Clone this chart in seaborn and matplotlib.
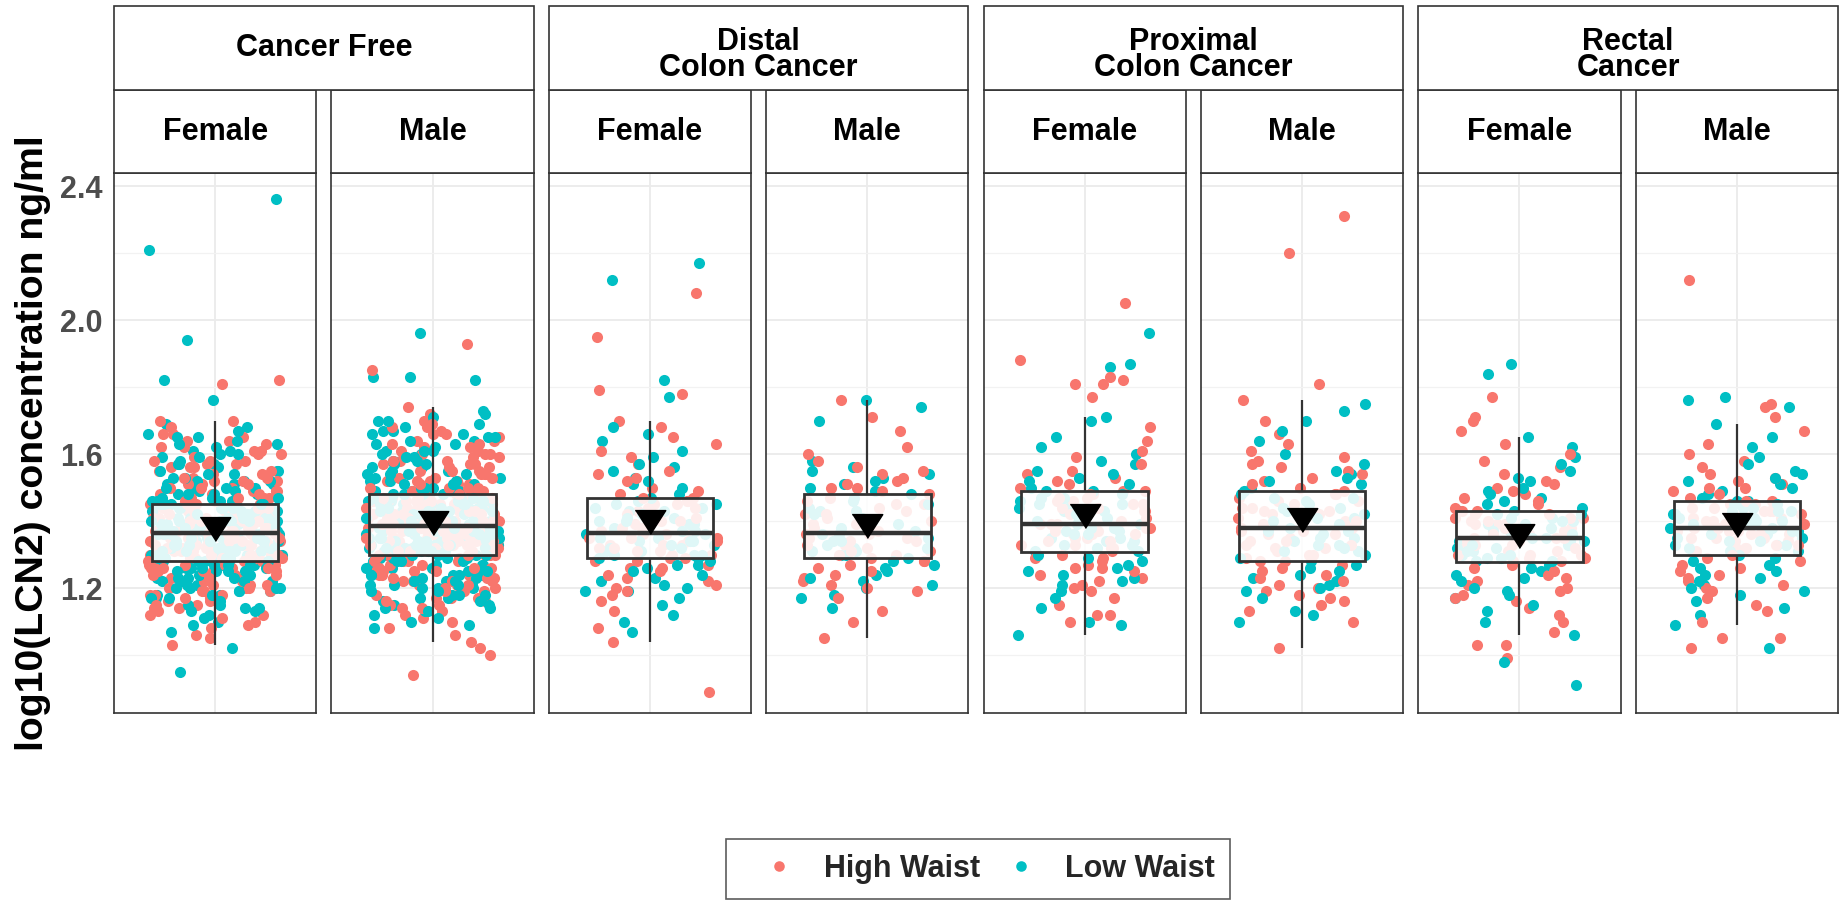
import numpy as np
import pandas as pd
import matplotlib
matplotlib.use("Agg")
import matplotlib.pyplot as plt
from matplotlib.patches import Rectangle
from matplotlib.lines import Line2D
import seaborn as sns

sns.set_theme(style="white")
plt.rcParams["font.family"] = ["Liberation Sans", "DejaVu Sans"]

# ---------------------------------------------------------------- data
cancer_types = ["Cancer Free", "Distal\nColon Cancer", "Proximal\nColon Cancer", "Rectal\nCancer"]
sexes = ["Female", "Male"]
waist_groups = ["High Waist", "Low Waist"]
palette = {"High Waist": "#F8766D", "Low Waist": "#00BFC4"}
y_ticks = [1.2, 1.6, 2.0, 2.4]
y_label = "log10(LCN2) concentration ng/ml"

# log10(LCN2) per participant, by cancer site, sex and waist group
cf_female_high = [
    1.03, 1.05, 1.06, 1.08, 1.10, 1.11, 1.12, 1.13, 1.14, 1.15, 1.16, 1.16, 1.17, 1.18, 1.18, 1.19,
    1.19, 1.20, 1.20, 1.21, 1.21, 1.22, 1.22, 1.23, 1.23, 1.23, 1.24, 1.24, 1.25, 1.25, 1.25, 1.26,
    1.26, 1.26, 1.27, 1.27, 1.27, 1.09, 1.14, 1.17, 1.19, 1.20, 1.21, 1.22, 1.23, 1.24, 1.25, 1.26,
    1.27, 1.15, 1.18, 1.21, 1.24, 1.26, 1.12, 1.23,
    1.28, 1.28, 1.28, 1.29, 1.29, 1.29, 1.30, 1.30, 1.30, 1.30, 1.31, 1.31, 1.31, 1.32, 1.32, 1.32,
    1.32, 1.33, 1.33, 1.33, 1.33, 1.34, 1.34, 1.34, 1.34, 1.35, 1.35, 1.35, 1.35, 1.36, 1.36, 1.36,
    1.36, 1.29, 1.31, 1.33, 1.35, 1.28, 1.28, 1.29, 1.30, 1.31, 1.32, 1.33, 1.34, 1.35, 1.36, 1.28,
    1.30, 1.32, 1.34, 1.36, 1.29, 1.31, 1.33, 1.35, 1.30,
    1.37, 1.37, 1.37, 1.37, 1.38, 1.38, 1.38, 1.38, 1.39, 1.39, 1.39, 1.39, 1.40, 1.40, 1.40, 1.40,
    1.41, 1.41, 1.41, 1.41, 1.42, 1.42, 1.42, 1.42, 1.43, 1.43, 1.43, 1.43, 1.44, 1.44, 1.44, 1.44,
    1.45, 1.45, 1.45, 1.45, 1.38, 1.41, 1.37, 1.38, 1.39, 1.40, 1.41, 1.42, 1.43, 1.44, 1.45, 1.37,
    1.39, 1.41, 1.43, 1.45, 1.38, 1.40, 1.42, 1.44, 1.39,
    1.46, 1.46, 1.47, 1.47, 1.48, 1.48, 1.49, 1.49, 1.50, 1.50, 1.51, 1.51, 1.52, 1.52, 1.53, 1.53,
    1.54, 1.55, 1.55, 1.56, 1.57, 1.58, 1.58, 1.59, 1.60, 1.61, 1.62, 1.63, 1.64, 1.65, 1.66, 1.68,
    1.70, 1.70, 1.81, 1.82, 1.56, 1.46, 1.47, 1.48, 1.49, 1.50, 1.52, 1.54, 1.56, 1.58, 1.60, 1.62,
    1.64, 1.47, 1.49, 1.51, 1.53, 1.57, 1.61, 1.66,
]
cf_female_low = [
    0.95, 1.02, 1.07, 1.09, 1.11, 1.12, 1.13, 1.14, 1.15, 1.15, 1.16, 1.17, 1.17, 1.18, 1.19, 1.19,
    1.20, 1.20, 1.21, 1.21, 1.22, 1.22, 1.22, 1.23, 1.23, 1.24, 1.24, 1.24, 1.25, 1.25, 1.26, 1.26,
    1.26, 1.27, 1.27, 1.27, 1.18, 1.10, 1.13, 1.16, 1.18, 1.20, 1.21, 1.22, 1.23, 1.24, 1.25, 1.26,
    1.27, 1.14, 1.17, 1.20, 1.23, 1.25, 1.19, 1.27,
    1.28, 1.28, 1.29, 1.29, 1.29, 1.30, 1.30, 1.30, 1.31, 1.31, 1.31, 1.31, 1.32, 1.32, 1.32, 1.33,
    1.33, 1.33, 1.33, 1.34, 1.34, 1.34, 1.34, 1.35, 1.35, 1.35, 1.36, 1.36, 1.36, 1.36, 1.28, 1.30,
    1.32, 1.34, 1.35, 1.29, 1.33, 1.36, 1.28, 1.29, 1.30, 1.31, 1.32, 1.33, 1.34, 1.35, 1.36, 1.29,
    1.31, 1.33, 1.35, 1.28, 1.30, 1.32, 1.34, 1.36, 1.31,
    1.37, 1.37, 1.37, 1.38, 1.38, 1.38, 1.38, 1.39, 1.39, 1.39, 1.40, 1.40, 1.40, 1.40, 1.41, 1.41,
    1.41, 1.42, 1.42, 1.42, 1.42, 1.43, 1.43, 1.43, 1.44, 1.44, 1.44, 1.44, 1.45, 1.45, 1.45, 1.37,
    1.39, 1.41, 1.43, 1.45, 1.40, 1.42, 1.37, 1.38, 1.39, 1.40, 1.41, 1.42, 1.43, 1.44, 1.45, 1.38,
    1.40, 1.42, 1.44, 1.37, 1.39, 1.41, 1.43, 1.45, 1.40,
    1.46, 1.46, 1.47, 1.47, 1.48, 1.48, 1.49, 1.49, 1.50, 1.50, 1.51, 1.52, 1.52, 1.53, 1.54, 1.54,
    1.55, 1.56, 1.57, 1.58, 1.59, 1.60, 1.61, 1.62, 1.63, 1.64, 1.65, 1.66, 1.68, 1.69, 1.76, 1.82,
    1.94, 2.21, 2.36, 1.51, 1.57, 1.46, 1.47, 1.48, 1.50, 1.51, 1.53, 1.55, 1.57, 1.59, 1.61, 1.63,
    1.65, 1.46, 1.48, 1.50, 1.52, 1.55, 1.60, 1.67,
]
cf_male_high = [
    0.94, 1.00, 1.02, 1.04, 1.06, 1.08, 1.10, 1.12, 1.13, 1.14, 1.15, 1.16, 1.17, 1.17, 1.18, 1.19,
    1.19, 1.20, 1.21, 1.21, 1.22, 1.22, 1.23, 1.23, 1.24, 1.24, 1.25, 1.25, 1.26, 1.26, 1.27, 1.27,
    1.28, 1.28, 1.29, 1.29, 1.16, 1.11, 1.15, 1.17, 1.19, 1.20, 1.21, 1.22, 1.23, 1.24, 1.25, 1.26,
    1.27, 1.28, 1.29, 1.18, 1.22, 1.25, 1.28, 1.14,
    1.30, 1.30, 1.30, 1.31, 1.31, 1.31, 1.32, 1.32, 1.32, 1.33, 1.33, 1.33, 1.34, 1.34, 1.34, 1.35,
    1.35, 1.35, 1.36, 1.36, 1.36, 1.37, 1.37, 1.37, 1.38, 1.38, 1.38, 1.30, 1.32, 1.34, 1.36, 1.38,
    1.31, 1.33, 1.35, 1.37, 1.34, 1.36, 1.30, 1.31, 1.32, 1.33, 1.34, 1.35, 1.36, 1.37, 1.38, 1.30,
    1.32, 1.34, 1.36, 1.38, 1.31, 1.33, 1.35, 1.37, 1.33,
    1.39, 1.39, 1.39, 1.40, 1.40, 1.40, 1.41, 1.41, 1.41, 1.42, 1.42, 1.42, 1.43, 1.43, 1.43, 1.44,
    1.44, 1.44, 1.45, 1.45, 1.45, 1.46, 1.46, 1.46, 1.47, 1.47, 1.47, 1.48, 1.48, 1.40, 1.42, 1.44,
    1.46, 1.41, 1.43, 1.45, 1.39, 1.47, 1.39, 1.40, 1.41, 1.42, 1.43, 1.44, 1.45, 1.46, 1.47, 1.48,
    1.39, 1.41, 1.43, 1.45, 1.47, 1.40, 1.42, 1.44, 1.46,
    1.49, 1.49, 1.50, 1.50, 1.51, 1.51, 1.52, 1.52, 1.53, 1.53, 1.54, 1.55, 1.55, 1.56, 1.57, 1.58,
    1.58, 1.59, 1.60, 1.61, 1.62, 1.63, 1.64, 1.65, 1.66, 1.67, 1.68, 1.69, 1.70, 1.72, 1.74, 1.85,
    1.93, 1.54, 1.57, 1.60, 1.63, 1.49, 1.50, 1.51, 1.52, 1.53, 1.54, 1.56, 1.58, 1.60, 1.62, 1.64,
    1.66, 1.50, 1.52, 1.55, 1.57, 1.59, 1.61, 1.68,
]
cf_male_low = [
    1.08, 1.09, 1.11, 1.13, 1.14, 1.15, 1.15, 1.16, 1.17, 1.18, 1.18, 1.19, 1.20, 1.20, 1.21, 1.21,
    1.22, 1.22, 1.23, 1.23, 1.24, 1.24, 1.25, 1.25, 1.26, 1.26, 1.27, 1.27, 1.28, 1.28, 1.28, 1.29,
    1.29, 1.29, 1.12, 1.19, 1.24, 1.10, 1.14, 1.16, 1.18, 1.20, 1.21, 1.22, 1.23, 1.24, 1.25, 1.26,
    1.27, 1.28, 1.29, 1.17, 1.21, 1.24, 1.27, 1.13,
    1.30, 1.30, 1.31, 1.31, 1.31, 1.32, 1.32, 1.32, 1.33, 1.33, 1.33, 1.34, 1.34, 1.34, 1.35, 1.35,
    1.35, 1.36, 1.36, 1.36, 1.37, 1.37, 1.37, 1.38, 1.38, 1.38, 1.30, 1.32, 1.34, 1.36, 1.38, 1.31,
    1.33, 1.35, 1.37, 1.33, 1.35, 1.37, 1.30, 1.31, 1.32, 1.33, 1.34, 1.35, 1.36, 1.37, 1.38, 1.31,
    1.33, 1.35, 1.37, 1.30, 1.32, 1.34, 1.36, 1.38, 1.34,
    1.39, 1.39, 1.40, 1.40, 1.40, 1.41, 1.41, 1.41, 1.42, 1.42, 1.42, 1.43, 1.43, 1.43, 1.44, 1.44,
    1.44, 1.45, 1.45, 1.45, 1.46, 1.46, 1.46, 1.47, 1.47, 1.47, 1.48, 1.48, 1.39, 1.41, 1.43, 1.45,
    1.47, 1.40, 1.42, 1.44, 1.46, 1.48, 1.39, 1.40, 1.41, 1.42, 1.43, 1.44, 1.45, 1.46, 1.47, 1.48,
    1.40, 1.42, 1.44, 1.46, 1.48, 1.39, 1.41, 1.43, 1.45,
    1.49, 1.49, 1.50, 1.50, 1.51, 1.52, 1.52, 1.53, 1.54, 1.54, 1.55, 1.56, 1.57, 1.58, 1.59, 1.60,
    1.61, 1.62, 1.63, 1.64, 1.65, 1.66, 1.67, 1.68, 1.69, 1.70, 1.71, 1.72, 1.73, 1.82, 1.83, 1.83,
    1.96, 1.51, 1.56, 1.61, 1.66, 1.49, 1.50, 1.51, 1.53, 1.54, 1.55, 1.57, 1.59, 1.61, 1.63, 1.65,
    1.67, 1.49, 1.52, 1.54, 1.58, 1.60, 1.64, 1.70,
]
distal_female_high = [
    0.89, 1.04, 1.08, 1.13, 1.16, 1.18, 1.20, 1.21, 1.22, 1.23, 1.24, 1.25, 1.26, 1.26, 1.27, 1.28,
    1.28, 1.19,
    1.29, 1.29, 1.30, 1.31, 1.31, 1.32, 1.33, 1.33, 1.34, 1.34, 1.35, 1.35, 1.36, 1.36, 1.30, 1.32,
    1.35, 1.33,
    1.37, 1.38, 1.39, 1.40, 1.41, 1.42, 1.43, 1.44, 1.44, 1.45, 1.46, 1.47, 1.47, 1.38, 1.40, 1.42,
    1.45, 1.46,
    1.48, 1.49, 1.50, 1.52, 1.53, 1.55, 1.57, 1.59, 1.61, 1.63, 1.65, 1.68, 1.70, 1.78, 1.79, 1.95,
    2.08, 1.54,
]
distal_female_low = [
    1.07, 1.10, 1.12, 1.15, 1.17, 1.19, 1.19, 1.21, 1.22, 1.23, 1.24, 1.25, 1.26, 1.27, 1.27, 1.28,
    1.20,
    1.29, 1.30, 1.30, 1.31, 1.32, 1.32, 1.33, 1.34, 1.34, 1.35, 1.36, 1.36, 1.29, 1.31, 1.33, 1.35,
    1.30, 1.34,
    1.37, 1.38, 1.39, 1.39, 1.40, 1.41, 1.42, 1.43, 1.44, 1.45, 1.46, 1.47, 1.37, 1.41, 1.43, 1.45,
    1.40, 1.44,
    1.48, 1.50, 1.51, 1.53, 1.55, 1.57, 1.59, 1.61, 1.64, 1.66, 1.68, 1.77, 1.82, 2.12, 2.17, 1.52,
    1.56,
]
distal_male_high = [
    1.05, 1.10, 1.13, 1.17, 1.19, 1.20, 1.22, 1.23, 1.24, 1.25, 1.26, 1.27, 1.28, 1.28, 1.21,
    1.29, 1.30, 1.31, 1.31, 1.32, 1.33, 1.34, 1.34, 1.35, 1.36, 1.36, 1.30, 1.32, 1.35, 1.33,
    1.37, 1.38, 1.39, 1.40, 1.41, 1.42, 1.43, 1.44, 1.45, 1.46, 1.47, 1.48, 1.39, 1.42, 1.45,
    1.49, 1.50, 1.51, 1.52, 1.53, 1.55, 1.56, 1.58, 1.60, 1.62, 1.67, 1.71, 1.76, 1.54, 1.50,
]
distal_male_low = [
    1.14, 1.17, 1.18, 1.20, 1.22, 1.23, 1.24, 1.25, 1.26, 1.27, 1.28, 1.21,
    1.29, 1.30, 1.31, 1.32, 1.33, 1.34, 1.35, 1.36, 1.30, 1.32, 1.34, 1.36, 1.31,
    1.37, 1.38, 1.40, 1.41, 1.42, 1.43, 1.44, 1.45, 1.46, 1.47, 1.48, 1.39, 1.43,
    1.49, 1.50, 1.51, 1.52, 1.53, 1.54, 1.56, 1.58, 1.70, 1.74, 1.76, 1.55,
]
proximal_female_high = [
    1.10, 1.12, 1.12, 1.15, 1.17, 1.19, 1.20, 1.22, 1.23, 1.24, 1.25, 1.26, 1.27, 1.28, 1.29, 1.29,
    1.30, 1.21, 1.26,
    1.31, 1.32, 1.33, 1.33, 1.34, 1.35, 1.36, 1.36, 1.37, 1.38, 1.38, 1.39, 1.39, 1.32, 1.35, 1.37,
    1.34, 1.36, 1.39,
    1.40, 1.41, 1.42, 1.43, 1.43, 1.44, 1.45, 1.46, 1.46, 1.47, 1.48, 1.49, 1.49, 1.41, 1.44, 1.47,
    1.42, 1.45, 1.48,
    1.50, 1.51, 1.52, 1.54, 1.55, 1.57, 1.59, 1.61, 1.64, 1.68, 1.77, 1.81, 1.81, 1.82, 1.83, 1.88,
    2.05, 1.53,
]
proximal_female_low = [
    1.06, 1.09, 1.10, 1.14, 1.17, 1.19, 1.21, 1.22, 1.23, 1.24, 1.25, 1.27, 1.28, 1.29, 1.30, 1.26,
    1.31, 1.32, 1.33, 1.34, 1.35, 1.36, 1.37, 1.38, 1.39, 1.31, 1.33, 1.35, 1.37, 1.39, 1.34, 1.36,
    1.38,
    1.40, 1.41, 1.42, 1.43, 1.44, 1.45, 1.46, 1.47, 1.48, 1.49, 1.41, 1.43, 1.45, 1.47, 1.49, 1.44,
    1.50, 1.51, 1.53, 1.54, 1.55, 1.57, 1.60, 1.62, 1.65, 1.70, 1.71, 1.86, 1.87, 1.96, 1.52, 1.58,
]
proximal_male_high = [
    1.02, 1.10, 1.13, 1.15, 1.17, 1.18, 1.19, 1.20, 1.21, 1.22, 1.23, 1.24, 1.25, 1.26, 1.27, 1.28,
    1.28, 1.16,
    1.29, 1.30, 1.31, 1.32, 1.33, 1.34, 1.35, 1.36, 1.37, 1.38, 1.38, 1.30, 1.32, 1.34, 1.36, 1.33,
    1.37,
    1.39, 1.40, 1.41, 1.42, 1.43, 1.44, 1.45, 1.46, 1.47, 1.48, 1.49, 1.40, 1.42, 1.44, 1.46, 1.48,
    1.43,
    1.50, 1.51, 1.52, 1.53, 1.54, 1.56, 1.58, 1.59, 1.61, 1.63, 1.66, 1.70, 1.76, 1.81, 2.20, 2.31,
    1.55, 1.57,
]
proximal_male_low = [
    1.10, 1.12, 1.13, 1.17, 1.19, 1.20, 1.22, 1.23, 1.24, 1.25, 1.26, 1.27, 1.28, 1.21,
    1.29, 1.30, 1.31, 1.32, 1.33, 1.34, 1.35, 1.36, 1.37, 1.38, 1.31, 1.33, 1.35, 1.37,
    1.39, 1.40, 1.41, 1.42, 1.43, 1.44, 1.45, 1.46, 1.47, 1.48, 1.49, 1.41, 1.44, 1.47,
    1.50, 1.51, 1.52, 1.53, 1.55, 1.57, 1.60, 1.64, 1.67, 1.70, 1.73, 1.75, 1.54,
]
rectal_female_high = [
    0.99, 1.03, 1.03, 1.07, 1.10, 1.12, 1.14, 1.16, 1.17, 1.18, 1.19, 1.20, 1.21, 1.22, 1.23, 1.24,
    1.25, 1.26, 1.27,
    1.28, 1.28, 1.29, 1.30, 1.30, 1.31, 1.32, 1.32, 1.33, 1.33, 1.34, 1.35, 1.35, 1.29, 1.31, 1.34,
    1.30, 1.33, 1.35,
    1.36, 1.37, 1.37, 1.38, 1.39, 1.39, 1.40, 1.41, 1.41, 1.42, 1.43, 1.43, 1.38, 1.40, 1.42, 1.36,
    1.39, 1.41, 1.37,
    1.44, 1.45, 1.46, 1.47, 1.48, 1.49, 1.50, 1.51, 1.52, 1.54, 1.56, 1.58, 1.60, 1.63, 1.67, 1.70,
    1.71, 1.77,
]
rectal_female_low = [
    0.91, 0.98, 1.06, 1.10, 1.13, 1.15, 1.17, 1.18, 1.19, 1.20, 1.22, 1.23, 1.24, 1.25, 1.26, 1.27,
    1.28, 1.29, 1.29, 1.30, 1.31, 1.32, 1.32, 1.33, 1.34, 1.34, 1.35, 1.35, 1.30, 1.31, 1.33, 1.28,
    1.34,
    1.36, 1.37, 1.38, 1.39, 1.39, 1.40, 1.41, 1.42, 1.43, 1.43, 1.37, 1.38, 1.40, 1.42, 1.36, 1.41,
    1.44, 1.45, 1.46, 1.47, 1.48, 1.49, 1.50, 1.52, 1.53, 1.55, 1.57, 1.59, 1.62, 1.65, 1.84, 1.87,
]
rectal_male_high = [
    1.02, 1.05, 1.05, 1.10, 1.13, 1.15, 1.17, 1.19, 1.20, 1.22, 1.23, 1.24, 1.25, 1.26, 1.27, 1.28,
    1.29, 1.30, 1.21,
    1.31, 1.32, 1.32, 1.33, 1.33, 1.34, 1.35, 1.35, 1.36, 1.36, 1.37, 1.37, 1.38, 1.38, 1.32, 1.34,
    1.36, 1.35, 1.37,
    1.39, 1.39, 1.40, 1.41, 1.41, 1.42, 1.43, 1.43, 1.44, 1.45, 1.45, 1.46, 1.40, 1.42, 1.44, 1.46,
    1.41, 1.43, 1.39,
    1.47, 1.48, 1.49, 1.50, 1.51, 1.52, 1.53, 1.54, 1.56, 1.58, 1.60, 1.63, 1.67, 1.71, 1.74, 1.75,
    2.12, 1.50,
]
rectal_male_low = [
    1.02, 1.09, 1.12, 1.14, 1.16, 1.18, 1.19, 1.21, 1.22, 1.23, 1.24, 1.25, 1.26, 1.27, 1.28, 1.29,
    1.30, 1.20,
    1.31, 1.32, 1.33, 1.33, 1.34, 1.35, 1.36, 1.37, 1.38, 1.38, 1.31, 1.34, 1.36, 1.32, 1.35, 1.37,
    1.33,
    1.39, 1.40, 1.40, 1.41, 1.42, 1.43, 1.44, 1.45, 1.46, 1.39, 1.41, 1.43, 1.45, 1.42, 1.44, 1.46,
    1.40, 1.43,
    1.47, 1.48, 1.49, 1.50, 1.52, 1.53, 1.55, 1.57, 1.59, 1.62, 1.65, 1.69, 1.74, 1.76, 1.77, 1.51,
    1.54,
]

series = {
    (cancer_types[0], "Female"): (cf_female_high, cf_female_low),
    (cancer_types[0], "Male"): (cf_male_high, cf_male_low),
    (cancer_types[1], "Female"): (distal_female_high, distal_female_low),
    (cancer_types[1], "Male"): (distal_male_high, distal_male_low),
    (cancer_types[2], "Female"): (proximal_female_high, proximal_female_low),
    (cancer_types[2], "Male"): (proximal_male_high, proximal_male_low),
    (cancer_types[3], "Female"): (rectal_female_high, rectal_female_low),
    (cancer_types[3], "Male"): (rectal_male_high, rectal_male_low),
}

rows = []
for (ct, sx), (high, low) in series.items():
    for waist, values in zip(waist_groups, (high, low)):
        for k, v in enumerate(values):
            rows.append({"cancer": ct, "sex": sx, "waist": waist, "order": k, "lcn2": v})
df = pd.DataFrame(rows)

# ---------------------------------------------------------------- layout (pixels)
W, H = 1840, 906
fig = plt.figure(figsize=(W / 100, H / 100), dpi=100)


def fig_box(x0, y_top, w, h):
    return [x0 / W, 1 - (y_top + h) / H, w / W, h / H]


left0, right_end, gap = 114, 1838, 15
pw = (right_end - left0 - 7 * gap) / 8
panel_top, panel_bot = 173, 713
strip2_top, strip1_top = 90, 6
ylim = (0.827, 2.439)
edge = "#333333"
strip_font = dict(fontsize=22, fontweight="bold", color="black")

np.random.seed(11)
n_chunks = 6

for i, ct in enumerate(cancer_types):
    for j, sx in enumerate(sexes):
        k = 2 * i + j
        x0 = left0 + k * (pw + gap)
        ax = fig.add_axes(fig_box(x0, panel_top, pw, panel_bot - panel_top))
        sub = df[(df.cancer == ct) & (df.sex == sx)]

        # interleave the two waist groups so neither colour sits fully on top
        for r in range(n_chunks):
            for waist in waist_groups:
                part = sub[(sub.waist == waist) & (sub.order % n_chunks == r)]
                sns.stripplot(data=part, x="sex", y="lcn2", order=[sx],
                              color=palette[waist], jitter=0.4, size=8.0,
                              linewidth=0, ax=ax, zorder=2)

        sns.boxplot(
            data=sub, x="sex", y="lcn2", order=[sx], width=0.75,
            showfliers=False, showcaps=False, showmeans=True,
            color="white", linecolor=edge, linewidth=2.0, ax=ax,
            boxprops=dict(facecolor=(1, 1, 1, 0.88), edgecolor=edge,
                          linewidth=2.0, zorder=3),
            whiskerprops=dict(color=edge, linewidth=1.6, zorder=3),
            medianprops=dict(color=edge, linewidth=3.2, zorder=4),
            meanprops=dict(marker=[(-1, 0.78), (1, 0.78), (0, -0.78)],
                           markerfacecolor="black", markeredgecolor="black",
                           markersize=22, zorder=5),
        )

        ax.set_xlim(-0.6, 0.6)
        ax.set_ylim(*ylim)
        ax.set_xlabel("")
        ax.set_ylabel("")
        ax.set_xticks([0])
        ax.set_xticklabels([])
        ax.set_yticks(y_ticks)
        ax.set_yticks([1.0, 1.4, 1.8, 2.2], minor=True)
        ax.set_axisbelow(True)
        ax.grid(True, which="major", color="#EBEBEB", linewidth=1.3)
        ax.grid(True, which="minor", axis="y", color="#F2F2F2", linewidth=0.9)
        ax.tick_params(axis="x", length=0)
        ax.tick_params(axis="y", which="minor", length=0)
        if k == 0:
            ax.tick_params(axis="y", which="major", length=6, width=1.2, color=edge,
                           pad=2, labelsize=22, labelcolor="#4D4D4D")
            for lab in ax.get_yticklabels():
                lab.set_fontweight("bold")
        else:
            ax.tick_params(axis="y", which="major", length=0, labelleft=False)
        for sp in ax.spines.values():
            sp.set_visible(True)
            sp.set_color(edge)
            sp.set_linewidth(1.2)

        # inner strip (sex)
        fig.patches.append(Rectangle((x0 / W, 1 - panel_top / H), pw / W,
                                     (panel_top - strip2_top) / H,
                                     transform=fig.transFigure, facecolor="white",
                                     edgecolor=edge, linewidth=1.2))
        fig.text((x0 + pw / 2) / W, 1 - (strip2_top + panel_top) / 2 / H, sx,
                 ha="center", va="center", **strip_font)

    # outer strip (cancer site) spanning both sexes
    gx0 = left0 + 2 * i * (pw + gap)
    gw = 2 * pw + gap
    fig.patches.append(Rectangle((gx0 / W, 1 - strip2_top / H), gw / W,
                                 (strip2_top - strip1_top) / H,
                                 transform=fig.transFigure, facecolor="white",
                                 edgecolor=edge, linewidth=1.2))
    y_mid = (strip1_top + strip2_top) / 2 + (7 if "\n" in ct else 0)
    fig.text((gx0 + gw / 2) / W, 1 - y_mid / H, ct,
             ha="center", va="center", linespacing=0.8, **strip_font)

fig.text(33 / W, 1 - (panel_top + panel_bot) / 2 / H, y_label, rotation=90,
         ha="center", va="center", fontsize=28.3, fontweight="bold", color="black")

handles = [Line2D([], [], linestyle="", marker="o", markersize=7.6,
                  markerfacecolor=palette[w], markeredgewidth=0) for w in waist_groups]
leg = fig.legend(handles, waist_groups, loc="center", ncol=2,
                 bbox_to_anchor=(978 / W, 1 - 869 / H),
                 prop=dict(size=22, weight="bold"), frameon=True, fancybox=False,
                 borderpad=0.5, handlelength=2.5, handletextpad=0.2,
                 columnspacing=0.1)
leg.get_frame().set_edgecolor(edge)
leg.get_frame().set_linewidth(1.2)

fig.savefig("out.png", dpi=100, facecolor="white")
